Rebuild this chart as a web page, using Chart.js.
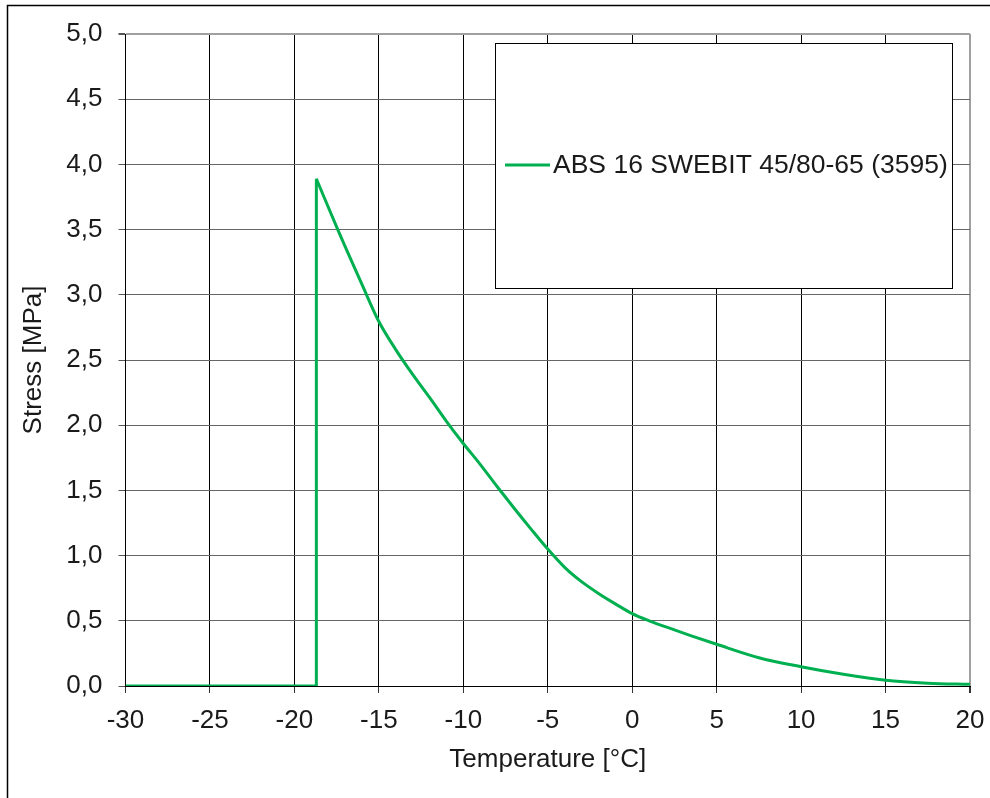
<!DOCTYPE html>
<html>
<head>
<meta charset="utf-8">
<script src="https://cdn.jsdelivr.net/npm/chart.js@4/dist/chart.umd.min.js"></script>
<style>
  html, body { margin: 0; padding: 0; background: #fff; }
  #wrap { position: relative; width: 990px; height: 798px; }
</style>
</head>
<body>
<div id="wrap"><canvas id="stressChart" width="990" height="798"></canvas></div>
<script>
const seriesLabel = 'ABS 16 SWEBIT 45/80-65 (3595)';
// temperature [°C] and stress [MPa]
const temps = [-30, -18.7, -18.7, -17.4, -16, -15, -14, -13, -12, -11, -10, -9, -8, -7, -6, -5, -4, -3, -2, -1, 0, 1, 2.5, 3.5, 5, 7.5, 10, 12.5, 15, 17.5, 20];
const stress = [0, 0, 3.89, 3.49, 3.08, 2.795, 2.58, 2.39, 2.213, 2.03, 1.86, 1.70, 1.53, 1.365, 1.205, 1.05, 0.91, 0.80, 0.71, 0.63, 0.555, 0.50, 0.43, 0.385, 0.32, 0.217, 0.148, 0.09, 0.044, 0.022, 0.013];
const xTicks = [-30, -25, -20, -15, -10, -5, 0, 5, 10, 15, 20];
const yTicks = [0, 0.5, 1, 1.5, 2, 2.5, 3, 3.5, 4, 4.5, 5];

const green = '#00b050';
const font = 'Liberation Sans, Arial, sans-serif';
const textColor = '#1a1a1a';

const points = temps.map((t, i) => ({ x: t, y: stress[i] }));
// the jump at the fracture temperature is drawn straight, the cooling curve smooth
const jumpPart = points.slice(0, 3);
const curvePart = points.slice(2);

const frameAndLegend = {
  id: 'frameAndLegend',
  afterDraw(chart) {
    const ctx = chart.ctx;
    ctx.save();
    // outer frame (only left and top edge are in view)
    ctx.strokeStyle = '#000';
    ctx.lineWidth = 1.5;
    ctx.beginPath();
    ctx.moveTo(7.5, 798);
    ctx.lineTo(7.5, 5.5);
    ctx.lineTo(990, 5.5);
    ctx.stroke();

    // legend box sits inside the plot
    ctx.fillStyle = '#fff';
    ctx.fillRect(495.5, 43.5, 457, 245);
    ctx.strokeStyle = '#000';
    ctx.lineWidth = 1;
    ctx.strokeRect(495.5, 43.5, 457, 245);
    ctx.strokeStyle = green;
    ctx.lineWidth = 3;
    ctx.beginPath();
    ctx.moveTo(505, 165);
    ctx.lineTo(550, 165);
    ctx.stroke();
    ctx.fillStyle = textColor;
    ctx.font = '26.5px ' + font;
    ctx.textBaseline = 'middle';
    ctx.fillText(seriesLabel, 553, 166);
    ctx.restore();
  }
};

new Chart(document.getElementById('stressChart'), {
  type: 'line',
  data: {
    datasets: [{
      label: seriesLabel,
      data: jumpPart,
      borderColor: green,
      borderWidth: 3,
      pointRadius: 0,
      tension: 0
    }, {
      label: seriesLabel,
      data: curvePart,
      borderColor: green,
      borderWidth: 3,
      pointRadius: 0,
      cubicInterpolationMode: 'monotone'
    }]
  },
  options: {
    responsive: false,
    animation: false,
    layout: { padding: { top: 34, right: 20, left: 0, bottom: 0 } },
    plugins: {
      legend: { display: false },
      tooltip: { enabled: false }
    },
    scales: {
      x: {
        type: 'linear',
        min: -30,
        max: 20,
        afterBuildTicks: s => { s.ticks = xTicks.map(v => ({ value: v })); },
        afterFit: s => { s.height = 112; s.paddingLeft = 0; s.paddingRight = 0; },
        border: { color: '#000', width: 1 },
        grid: {
          color: c => (c.tick && c.tick.value === 20 ? '#a0a0a0' : '#000'),
          lineWidth: c => (c.tick && c.tick.value === 20 ? 2 : 1),
          tickColor: '#333',
          tickLength: 7
        },
        ticks: {
          color: textColor,
          font: { family: font, size: 26 },
          padding: 12,
          maxRotation: 0,
          callback: v => String(v)
        },
        title: {
          display: true,
          text: 'Temperature [°C]',
          color: textColor,
          font: { family: font, size: 26 },
          padding: { top: 0, bottom: 23 }
        }
      },
      y: {
        type: 'linear',
        min: 0,
        max: 5,
        afterBuildTicks: s => { s.ticks = yTicks.map(v => ({ value: v })); },
        afterFit: s => { s.width = 125.5; s.paddingTop = 0; s.paddingBottom = 0; },
        border: { color: '#000', width: 1 },
        grid: {
          color: c => (c.tick && c.tick.value === 5 ? '#a0a0a0' : '#666'),
          lineWidth: c => (c.tick && c.tick.value === 5 ? 2 : 1),
          tickColor: '#555',
          tickLength: 7
        },
        ticks: {
          color: textColor,
          font: { family: font, size: 26 },
          padding: 16,
          callback: v => v.toFixed(1).replace('.', ',')
        },
        title: {
          display: true,
          text: 'Stress [MPa]',
          color: textColor,
          font: { family: font, size: 26 },
          padding: { top: 18, bottom: 0 }
        }
      }
    }
  },
  plugins: [frameAndLegend]
});
</script>
</body>
</html>
